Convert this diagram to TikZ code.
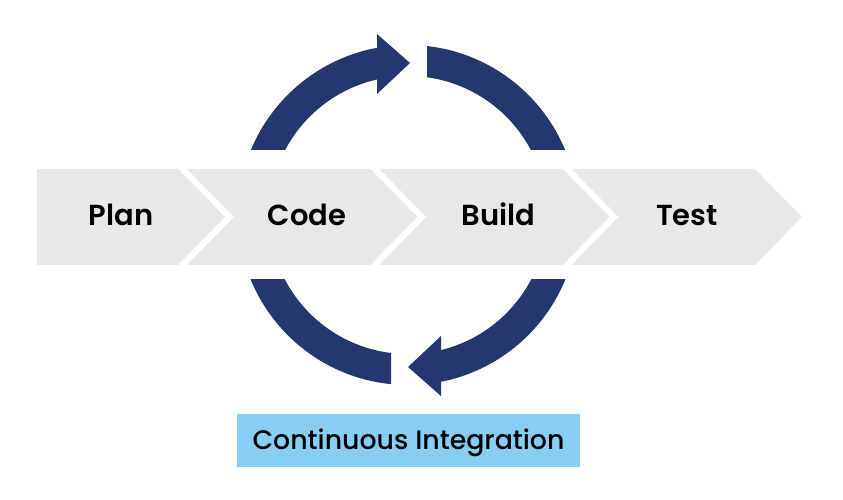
\documentclass[tikz,border=0pt]{standalone}
\usepackage{fontspec}
\setmainfont{Poppins}[BoldFont={Poppins SemiBold}]
\newfontfamily\cimedium{Poppins Medium}
\usetikzlibrary{positioning}
\definecolor{cinavy}{HTML}{24376F}
\definecolor{cigray}{HTML}{E8E8E8}
\definecolor{ciblue}{HTML}{87CEF2}
\tikzset{
  % grey chevron of one stage
  stage/.style    = {fill=cigray, draw=none},
  stagetxt/.style = {font=\fontsize{29}{34}\selectfont\bfseries, text=black, inner sep=0pt,
                     anchor=base},
  % dark loop arcs and their heads
  loop/.style     = {fill=cinavy, even odd rule},
  loophead/.style = {fill=cinavy},
  cibox/.style    = {rectangle, fill=ciblue, minimum width=343pt, minimum height=53pt,
                     inner sep=0pt, text height=18pt, text depth=0pt,
                     font=\cimedium\fontsize{26.8}{30}\selectfont, text=black},
}
\begin{document}
\begin{tikzpicture}[x=1pt,y=1pt]
\useasboundingbox (0,0) rectangle (843,500);
% stages
\foreach \i/\lbl/\tx in {0/Plan/121,1/Code/307,2/Build/498.5,3/Test/687} {
  \pgfmathsetmacro\rx{178+192.3*\i}
  \pgfmathsetmacro\lx{\i==0 ? 37 : \rx-183.3}
  \pgfmathsetmacro\nd{\i==0 ? 0 : 47}
  \fill[stage] (\lx,331) -- (\rx,331) -- (\rx+47,283) -- (\rx,235) -- (\lx,235)
        -- (\lx+\nd,283) -- cycle;
  \node[stagetxt] (\lbl) at (\tx,274) {\lbl};
}
% loop round code and build
\coordinate (hub) at (408,285);
\begin{scope}
  \clip (200,350) rectangle (377,500);
  \fill[loop] (hub) circle (170) (hub) circle (139);
\end{scope}
\begin{scope}
  \clip (427,350) rectangle (620,500);
  \fill[loop] (hub) circle (170) (hub) circle (139);
\end{scope}
\begin{scope}
  \clip (441,0) rectangle (620,220);
  \fill[loop] (hub) circle (170) (hub) circle (139);
\end{scope}
\begin{scope}
  \clip (200,0) rectangle (391,220);
  \fill[loop] (hub) circle (170) (hub) circle (139);
\end{scope}
\fill[loophead] (377,466) -- (410,437) -- (377,406) -- cycle;
\fill[loophead] (441,164) -- (408,133) -- (441,104) -- cycle;
% label
\node[cibox] (ci) at (408.5,59.5) {Continuous Integration};
\end{tikzpicture}
\end{document}
